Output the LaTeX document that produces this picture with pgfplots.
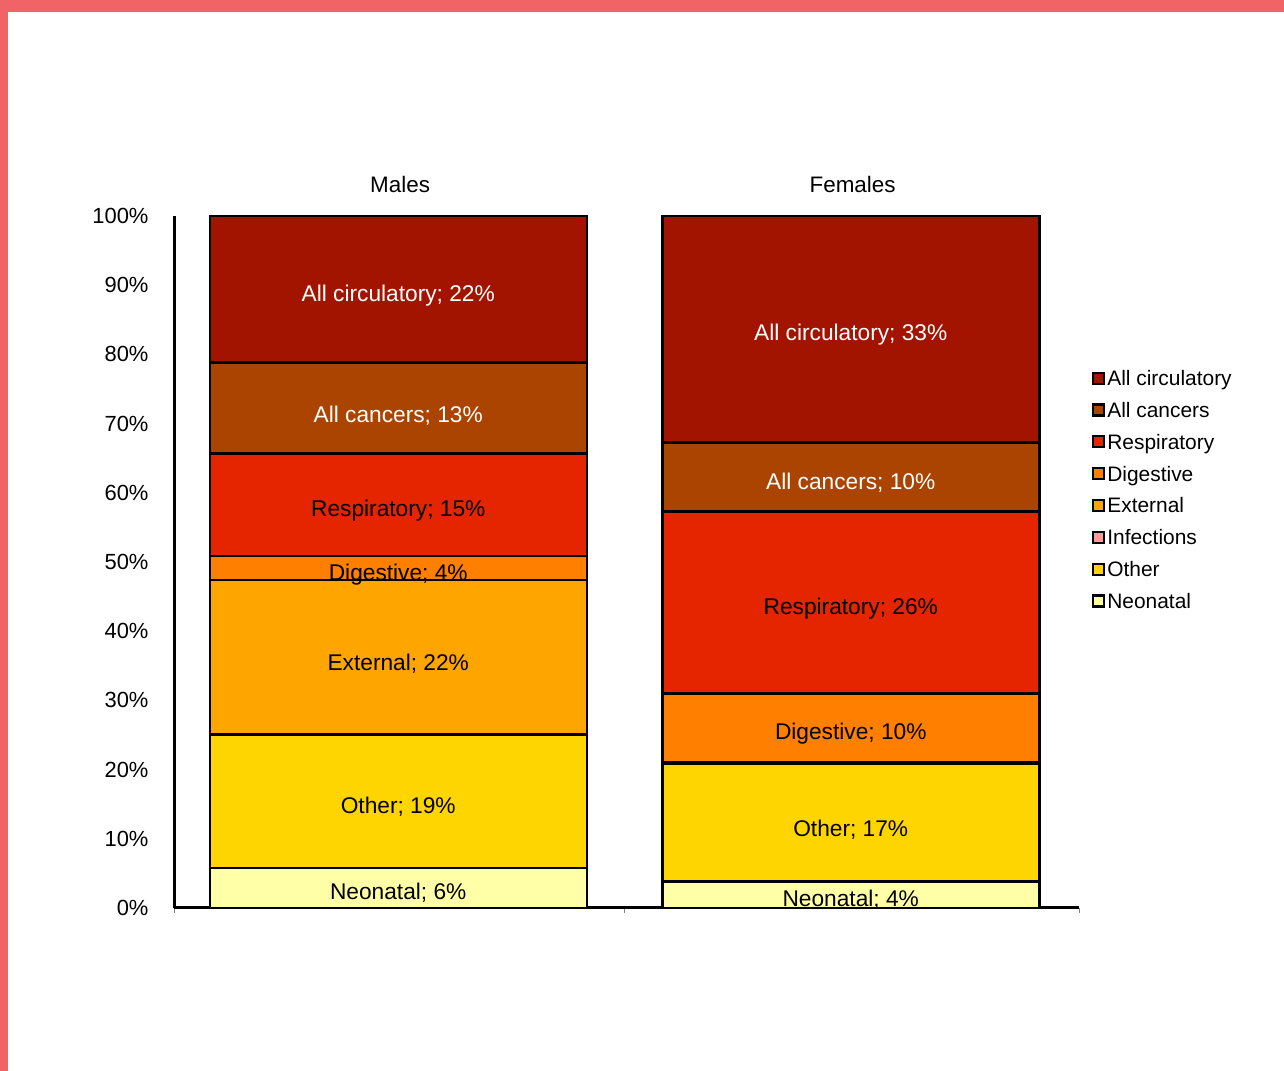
\documentclass[border=0pt]{standalone}
\usepackage{fontspec}
\setmainfont{Liberation Sans}
\usepackage{pgfplots}
\pgfplotsset{compat=1.18}
\definecolor{salmon}{HTML}{F06366}
\definecolor{ccirc}{HTML}{A21400}
\definecolor{ccanc}{HTML}{AA4400}
\definecolor{cresp}{HTML}{E52400}
\definecolor{cdig}{HTML}{FF7F00}
\definecolor{cext}{HTML}{FFA500}
\definecolor{cinf}{HTML}{FF9A9A}
\definecolor{coth}{HTML}{FFD500}
\definecolor{cneo}{HTML}{FFFFA8}
\tikzset{lbl/.style={font=\fontsize{22.8}{27}\selectfont, anchor=center, yshift=-2.5bp},
         ttl/.style={font=\fontsize{22.5}{27}\selectfont, anchor=center}}
\begin{document}
\begin{tikzpicture}
\fill[white] (0,0) rectangle (1284bp,1071bp);
\fill[salmon] (0,1059bp) rectangle (1284bp,1071bp);
\fill[salmon] (0,0) rectangle (8bp,1071bp);
\begin{axis}[
  at={(174bp,163bp)}, anchor=south west,
  scale only axis, width=905bp, height=692bp,
  xmin=-0.4956, xmax=1.5044, ymin=0, ymax=100,
  ybar stacked, bar width=377bp,
  axis x line=bottom, axis y line=left,
  axis line style={-, line width=3bp, black},
  xtick={-0.4956,0.5,1.5044}, xticklabels={},
  x tick style={draw=gray, line width=0.6bp},
  tick align=outside, major tick length=5bp,
  ytick={0,10,...,100},
  yticklabel={\pgfmathprintnumber{\tick}\%},
  y tick style={draw=none},
  yticklabel style={xshift=-17bp},
  /pgf/number format/assume math mode=true,
  tick label style={font=\fontsize{22}{26}\selectfont},
  clip=false,
  reverse legend,
  legend style={draw=none, fill=none, at={(1.011,0.783)}, anchor=north west,
    font=\fontsize{21}{25}\selectfont, row sep=11.2bp},
  legend cell align=left,
  legend image code/.code={\draw[#1, draw=black, line width=2.2bp] (0bp,-5bp) rectangle (11bp,6bp);},
  every axis plot/.append style={draw=black, line width=2.5bp},
]
\addplot[fill=cneo] coordinates {(0,5.8) (1,3.8)};
\addlegendentry{Neonatal}
\addplot[fill=coth] coordinates {(0,19.3) (1,17.0)};
\addlegendentry{Other}
\addplot[fill=cinf] coordinates {(0,0) (1,0.3)};
\addlegendentry{Infections}
\addplot[fill=cext] coordinates {(0,22.3) (1,0)};
\addlegendentry{External}
\addplot[fill=cdig] coordinates {(0,3.5) (1,9.9)};
\addlegendentry{Digestive}
\addplot[fill=cresp] coordinates {(0,14.8) (1,26.3)};
\addlegendentry{Respiratory}
\addplot[fill=ccanc] coordinates {(0,13.1) (1,10.0)};
\addlegendentry{All cancers}
\addplot[fill=ccirc] coordinates {(0,21.2) (1,32.7)};
\addlegendentry{All circulatory}

\node[ttl] at (axis cs:0.004,104.5) {Males};
\node[ttl] at (axis cs:1.004,104.5) {Females};
\coordinate (m7) at (axis cs:0,88.9);
\coordinate (m6) at (axis cs:0,71.5);
\coordinate (m5) at (axis cs:0,57.8);
\coordinate (m4) at (axis cs:0,48.6);
\coordinate (m3) at (axis cs:0,35.7);
\coordinate (m2) at (axis cs:0,15.0);
\coordinate (m1) at (axis cs:0,2.6);
\coordinate (f7) at (axis cs:1,83.2);
\coordinate (f6) at (axis cs:1,61.8);
\coordinate (f5) at (axis cs:1,43.6);
\coordinate (f4) at (axis cs:1,25.6);
\coordinate (f2) at (axis cs:1,11.7);
\coordinate (f1) at (axis cs:1,1.6);
\end{axis}
\node[lbl,white] at (m7) {All circulatory; 22\%};
\node[lbl,white] at (m6) {All cancers; 13\%};
\node[lbl] at (m5) {Respiratory; 15\%};
\node[lbl] at (m4) {Digestive; 4\%};
\node[lbl] at (m3) {External; 22\%};
\node[lbl] at (m2) {Other; 19\%};
\node[lbl] at (m1) {Neonatal; 6\%};
\node[lbl,white] at (f7) {All circulatory; 33\%};
\node[lbl,white] at (f6) {All cancers; 10\%};
\node[lbl] at (f5) {Respiratory; 26\%};
\node[lbl] at (f4) {Digestive; 10\%};
\node[lbl] at (f2) {Other; 17\%};
\node[lbl] at (f1) {Neonatal; 4\%};
\end{tikzpicture}
\end{document}
